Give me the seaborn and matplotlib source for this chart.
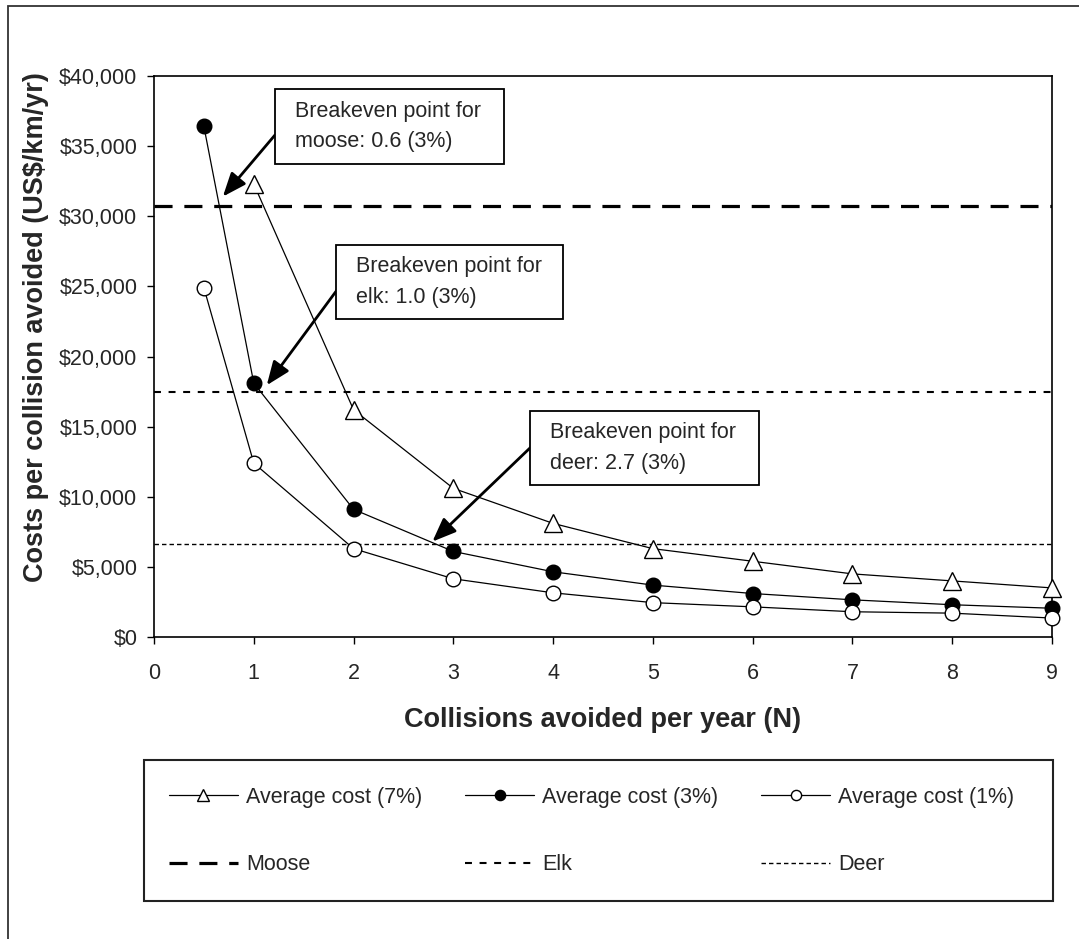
import numpy as np
import pandas as pd
import seaborn as sns
import matplotlib.pyplot as plt
from matplotlib.patches import Rectangle

# values
n_avoided = [0.5, 1, 2, 3, 4, 5, 6, 7, 8, 9]
cost_7pct = [np.nan, 32300, 16200, 10600, 8100, 6300, 5400, 4500, 4000, 3500]
cost_3pct = [36400, 18100, 9100, 6100, 4650, 3700, 3100, 2650, 2300, 2050]
cost_1pct = [24900, 12400, 6300, 4150, 3150, 2450, 2150, 1800, 1700, 1350]

species = ["Moose", "Elk", "Deer"]
species_cost = [30750, 17500, 6600]

x_ticks = list(range(0, 10))
y_ticks = list(range(0, 40001, 5000))

notes = ["Breakeven point for\nmoose: 0.6 (3%)",
         "Breakeven point for\nelk: 1.0 (3%)",
         "Breakeven point for\ndeer: 2.7 (3%)"]
note_tip = [(0.69, 31400), (1.13, 17950), (2.79, 6800)]

sns.set_style("white")
plt.rcParams['font.family'] = ['Liberation Sans', 'DejaVu Sans']
plt.rcParams['lines.scale_dashes'] = False

W, H = 1079, 939
fig = plt.figure(figsize=(W / 100, H / 100), dpi=100)


def fx(x):
    return x / W


def fy(y):
    return 1 - y / H


ax = fig.add_axes([fx(154), fy(637), (1052 - 154) / W, (637 - 76) / H])

df = pd.DataFrame({"N": n_avoided, "c7": cost_7pct, "c3": cost_3pct, "c1": cost_1pct})

common = dict(ax=ax, color="black", lw=0.9, markeredgecolor="black",
              markeredgewidth=1, zorder=3, clip_on=False)
sns.lineplot(data=df, x="N", y="c7", marker="^", markersize=13,
             markerfacecolor="white", label="Average cost (7%)", **common)
sns.lineplot(data=df, x="N", y="c3", marker="o", markersize=10.5,
             markerfacecolor="black", label="Average cost (3%)", **common)
sns.lineplot(data=df, x="N", y="c1", marker="o", markersize=10.5,
             markerfacecolor="white", label="Average cost (1%)", **common)

styles = [dict(lw=2.3, dashes=(13, 8.5)),
          dict(lw=1.5, dashes=(5, 5.5)),
          dict(lw=1.0, dashes=(3.2, 2.2))]
for name, val, st in zip(species, species_cost, styles):
    ax.axhline(val, color="black", label=name, zorder=1.5, **st)

ax.set_xlim(0, 9)
ax.set_ylim(0, 40000)
ax.set_xticks(x_ticks)
ax.set_yticks(y_ticks)
ax.set_yticklabels([f"${v:,.0f}" for v in y_ticks])
ax.tick_params(direction="out", length=5, width=1, labelsize=15.5, color="black",
               bottom=True, left=True)
ax.tick_params(axis="y", pad=7)
ax.tick_params(axis="x", pad=14)
ax.set_xlabel("")
ax.set_ylabel("")
for s in ax.spines.values():
    s.set_color("black")
    s.set_linewidth(1.2)

fig.text(fx(603), fy(727), "Collisions avoided per year (N)", fontsize=19.5,
         fontweight="bold", ha="center", va="baseline")
fig.text(fx(43), fy(327), "Costs per collision avoided (US$/km/yr)", fontsize=19.5,
         fontweight="bold", ha="center", va="baseline", rotation=90,
         rotation_mode="anchor")

# annotation boxes (pixel boxes from the top-left) and arrows
boxes = [(275, 89, 504, 164), (336, 245, 563, 319), (530, 411, 759, 485)]
arrow_start = [(275, 135), (337, 290), (531, 447)]
for txt, (x0, y0, x1, y1), start, tip in zip(notes, boxes, arrow_start, note_tip):
    fig.patches.append(Rectangle((fx(x0), fy(y1)), (x1 - x0) / W, (y1 - y0) / H,
                                 transform=fig.transFigure, fc="white", ec="black",
                                 lw=1.3, zorder=5))
    fig.text(fx(x0 + 20), fy((y0 + y1) / 2), txt, fontsize=15.5, ha="left",
             va="center", linespacing=1.6, zorder=6)
    ax.annotate("", xy=tip, xycoords="data", xytext=(fx(start[0]), fy(start[1])),
                textcoords="figure fraction",
                arrowprops=dict(arrowstyle="-|>,head_length=0.8,head_width=0.32",
                                lw=2, color="black", shrinkA=0, shrinkB=0,
                                mutation_scale=18), zorder=6)

# legend, row-major order like the original
h, l = ax.get_legend_handles_labels()
order = [0, 3, 1, 4, 2, 5]
ax.legend([h[i] for i in order], [l[i] for i in order], ncol=3,
          loc="center left", bbox_to_anchor=(fx(169), fy(831)),
          bbox_transform=fig.transFigure, frameon=False, fontsize=15.5,
          handlelength=3.2, handletextpad=0.37, columnspacing=2.0,
          labelspacing=2.15, borderpad=0, borderaxespad=0, markerscale=0.7)
fig.patches.append(Rectangle((fx(144), fy(901)), (1053 - 144) / W, (901 - 760) / H,
                             transform=fig.transFigure, fill=False, ec="#222222", lw=1.5))

# chart area border (left and top visible)
fig.patches.append(Rectangle((fx(8), -0.1), 1.2, fy(6) + 0.1,
                             transform=fig.transFigure, fill=False, ec="#333333", lw=1.3))

fig.savefig("out.png", dpi=100)
